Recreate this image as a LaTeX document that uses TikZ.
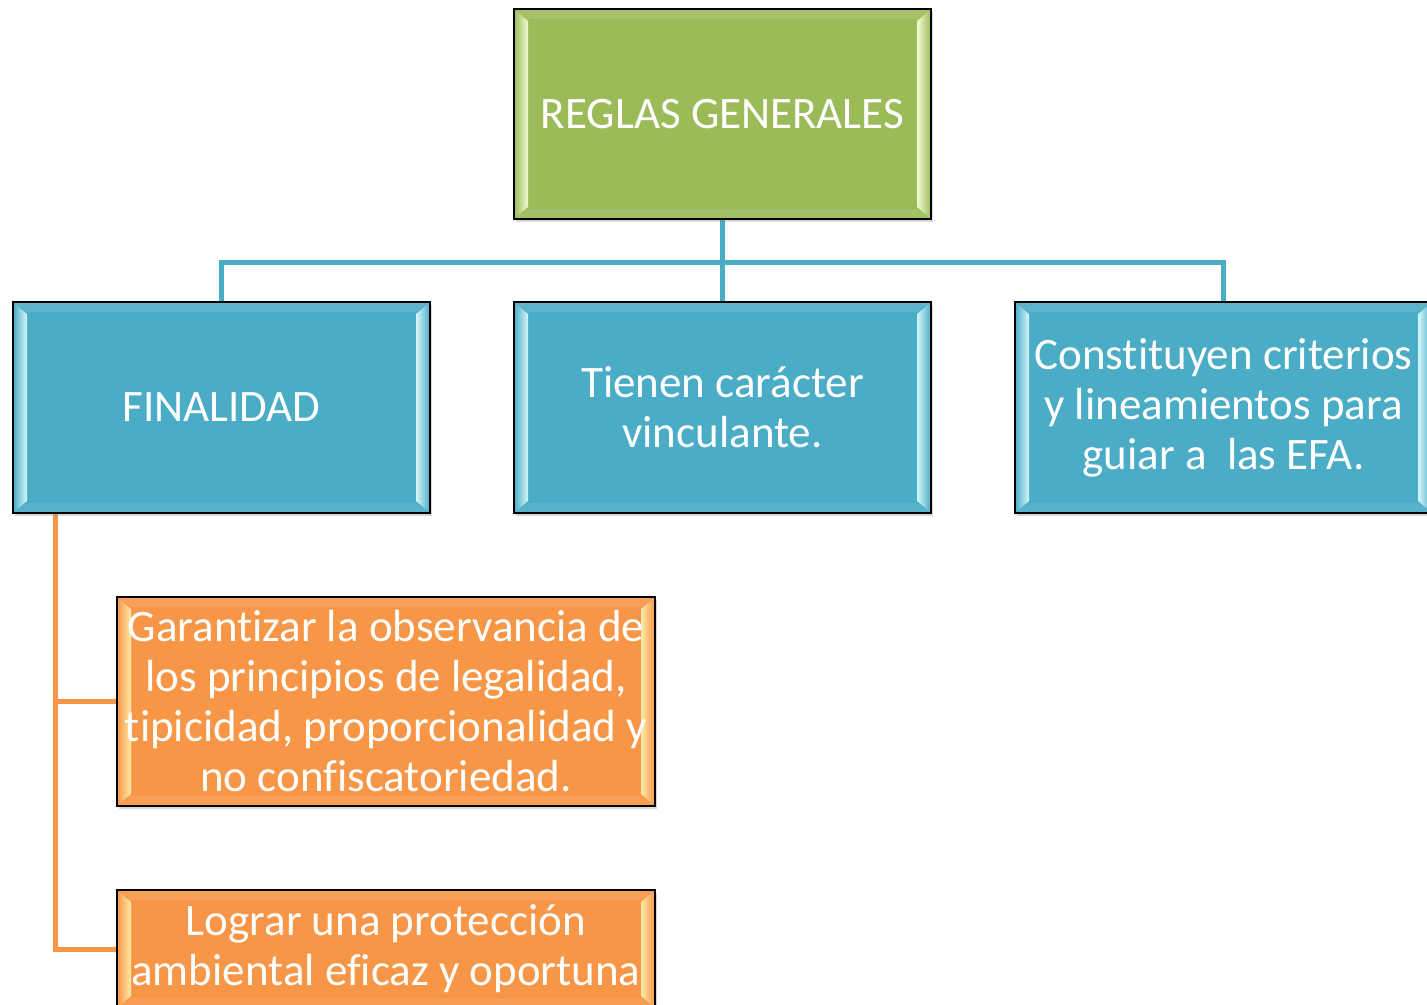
\documentclass[tikz,border=0pt]{standalone}
\usepackage{fontspec}
\setmainfont{Carlito}[Ligatures={NoCommon}]
\usetikzlibrary{shadows,calc,backgrounds}
\definecolor{grn}{HTML}{9BBB59}
\definecolor{blu}{HTML}{4BACC6}
\definecolor{org}{HTML}{F79646}
\definecolor{grnL}{HTML}{F2FBD2}
\definecolor{bluL}{HTML}{D4F7FC}
\definecolor{orgL}{HTML}{FFEAA8}
\tikzset{
  boxbase/.style={rectangle, draw=black, line width=1.6pt, inner sep=0pt,
    text=white, align=center, font=\fontsize{45}{50}\selectfont,
    drop shadow={shadow xshift=2pt, shadow yshift=-3pt, opacity=0.3}},
  bevel/.style 2 args={fill=#1, path picture={
    \coordinate (bnw) at (path picture bounding box.north west);
    \coordinate (bse) at (path picture bounding box.south east);
    \coordinate (bne) at (path picture bounding box.north east);
    \coordinate (bsw) at (path picture bounding box.south west);
    \fill[#1!90!white] (bnw) -- (bne) -- ([xshift=-14pt,yshift=-10pt]bne) -- ([xshift=14pt,yshift=-10pt]bnw) -- cycle;
    \fill[#1!93!white] (bsw) -- (bse) -- ([xshift=-14pt,yshift=10pt]bse) -- ([xshift=14pt,yshift=10pt]bsw) -- cycle;
    \shade[left color=#1, right color=#2] (bnw) -- ([xshift=14pt,yshift=-12pt]bnw) -- ([xshift=14pt,yshift=12pt]bsw) -- (bsw) -- cycle;
    \shade[left color=#2, right color=#1] (bne) -- ([xshift=-14pt,yshift=-12pt]bne) -- ([xshift=-14pt,yshift=12pt]bse) -- (bse) -- cycle;
  }},
  greenbox/.style={boxbase, bevel={grn}{grnL}, minimum width=417pt, minimum height=210pt},
  bluebox/.style={boxbase, bevel={blu}{bluL}, minimum width=417pt, minimum height=211pt},
  orangebox/.style={boxbase, bevel={org}{orgL}, minimum width=538pt},
  bline/.style={draw=blu, line width=5pt},
  oline/.style={draw=org, line width=5pt},
}
\begin{document}
\begin{tikzpicture}[x=1pt,y=-1pt]
\useasboundingbox (0,0) rectangle (1427,1004);
\clip (0,0) rectangle (1427,1004);
\node[greenbox] (top) at (722.5,114) {REGLAS GENERALES};
\node[bluebox] (fin) at (221.5,407.5) {FINALIDAD};
\node[bluebox] (vin) at (722.5,407.5) {Tienen carácter\\vinculante.};
\node[bluebox] (cri) at (1223.5,407.5) {Constituyen criterios\\y lineamientos para\\guiar a\ \ las EFA.};
\node[orangebox, minimum height=209pt] (gar) at (386,701.5) {Garantizar la observancia de\\los principios de legalidad,\\tipicidad, proporcionalidad y\\no confiscatoriedad.};
\node[orangebox, minimum height=118pt] (log) at (386,949) {Lograr una protección\\ambiental eficaz y oportuna};
\coordinate (bus) at (722.5,262);
\coordinate (otop) at ($(fin.south west)+(43,0)$);
\begin{scope}[on background layer]
\draw[bline] (top.south) -- (vin.north);
\draw[bline] (fin.north) |- (bus) -| (cri.north);
\draw[oline] (otop) |- (gar.west);
\draw[oline] (otop) |- (log.west);
\end{scope}
\end{tikzpicture}
\end{document}
